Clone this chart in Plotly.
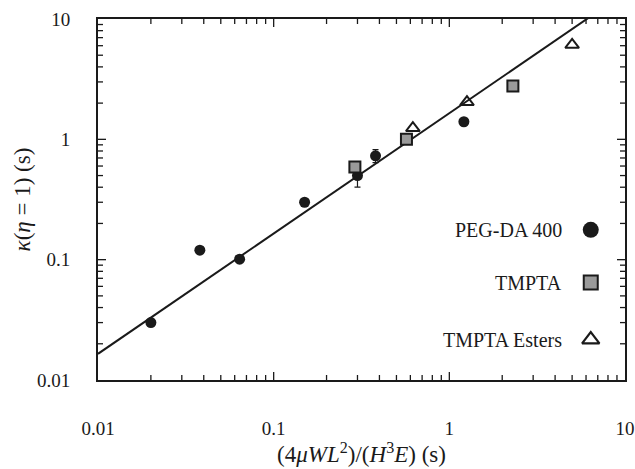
import plotly.graph_objects as go

# Measured relaxation times versus the scaling group (4 mu W L^2)/(H^3 E)
peg_x = [0.020, 0.038, 0.064, 0.15, 0.30, 0.38, 1.21]
peg_y = [0.030, 0.120, 0.101, 0.30, 0.50, 0.73, 1.40]
peg_err = [0, 0, 0, 0, 0.10, 0.09, 0]

tmpta_x = [0.29, 0.57, 2.30]
tmpta_y = [0.59, 1.00, 2.78]

ester_x = [0.62, 1.26, 5.0]
ester_y = [1.24, 2.04, 6.1]

# Power-law fit kappa = A * x^n
fit_A = 1.65
fit_n = 1.0
fit_x = [0.01, 10.0]
fit_y = [fit_A * v ** fit_n for v in fit_x]

tick_vals = [0.01, 0.1, 1, 10]
tick_text = ["0.01", "0.1", "1", "10"]

legend_names = ["PEG-DA 400", "TMPTA", "TMPTA Esters"]

FONT = "Liberation Serif"
INK = "#1a1a1a"

W, H = 635, 469
M = dict(l=98, r=10, t=19, b=89)
LOG_MIN, LOG_MAX = -2, 1
LO, HI = 10.0 ** LOG_MIN, 10.0 ** LOG_MAX

# inward tick marks on all four frame edges, drawn as short line segments
px_per_dec_x = (W - M["l"] - M["r"]) / (LOG_MAX - LOG_MIN)
px_per_dec_y = (H - M["t"] - M["b"]) / (LOG_MAX - LOG_MIN)
tick_pos = [m * 10.0 ** d for d in range(LOG_MIN, LOG_MAX) for m in range(1, 10)]


def tick_len(m, px):
    return (8 if m == 1 else 5) / px


tx, ty = [], []
for i, v in enumerate(tick_pos):
    if i == 0:
        continue
    m = i % 9 + 1
    dy = tick_len(m, px_per_dec_y)
    tx += [v, v, None, v, v, None]
    ty += [LO, LO * 10 ** dy, None, HI, HI / 10 ** dy, None]
    dx = tick_len(m, px_per_dec_x)
    ty += [v, v, None, v, v, None]
    tx += [LO, LO * 10 ** dx, None, HI, HI / 10 ** dx, None]

fig = go.Figure()

fig.add_trace(go.Scatter(
    x=tx, y=ty, mode="lines", line=dict(color=INK, width=1.3),
    showlegend=False, hoverinfo="skip"))

fig.add_trace(go.Scatter(
    x=fit_x, y=fit_y, mode="lines",
    line=dict(color=INK, width=2), showlegend=False, hoverinfo="skip"))

fig.add_trace(go.Scatter(
    x=peg_x, y=peg_y, mode="markers",
    marker=dict(symbol="circle", size=11, color=INK),
    error_y=dict(type="data", array=peg_err, visible=True,
                 color=INK, thickness=1.2, width=3),
    showlegend=False))

fig.add_trace(go.Scatter(
    x=tmpta_x, y=tmpta_y, mode="markers",
    marker=dict(symbol="square", size=11, color="#9a9a9a",
                line=dict(color=INK, width=2)),
    showlegend=False))

fig.add_trace(go.Scatter(
    x=ester_x, y=ester_y, mode="markers",
    marker=dict(symbol="triangle-up-open", size=12, color=INK,
                line=dict(color=INK, width=2)),
    showlegend=False))

# Legend keys: text on the left, marker on the right
key_y = [0.416, 0.270, 0.112]
key_style = [
    dict(symbol="circle", size=16, color=INK),
    dict(symbol="square", size=14, color="#9a9a9a", line=dict(color=INK, width=2)),
    dict(symbol="triangle-up-open", size=15, color=INK, line=dict(color=INK, width=2.2)),
]
for name, ky, st in zip(legend_names, key_y, key_style):
    fig.add_trace(go.Scatter(
        x=[0.935], y=[ky], mode="markers", marker=st,
        xaxis="x2", yaxis="y2", showlegend=False, hoverinfo="skip"))
    fig.add_annotation(
        x=0.885, y=ky, xref="x2 domain", yref="y2 domain", text=name, showarrow=False,
        xanchor="right", yanchor="middle",
        font=dict(family=FONT, size=20, color=INK))

labelled = dict(
    type="log", range=[LOG_MIN, LOG_MAX], showgrid=False, zeroline=False,
    automargin=False, tickmode="array", tickvals=tick_vals, ticktext=tick_text,
    ticks="",
    showline=True, linecolor=INK, linewidth=2, mirror=True,
    tickfont=dict(family=FONT, size=19, color=INK),
)
hidden = dict(range=[0, 1], showticklabels=False, ticks="", showline=False,
              showgrid=False, zeroline=False, automargin=False, fixedrange=True)

fig.update_layout(
    width=W, height=H,
    margin=M,
    paper_bgcolor="white", plot_bgcolor="white",
    xaxis=dict(**labelled, ticklabelstandoff=30,
               title=dict(text="(4<i>μWL</i><sup>2</sup>)/(<i>H</i><sup>3</sup><i>E</i>) (s)",
                          font=dict(family=FONT, size=23, color=INK), standoff=6)),
    yaxis=dict(**labelled, ticklabelstandoff=22,
               title=dict(text="<i>κ</i>(<i>η</i> = 1) (s)",
                          font=dict(family=FONT, size=23, color=INK), standoff=0)),
    xaxis2=dict(**hidden, overlaying="x", anchor="y2"),
    yaxis2=dict(**hidden, overlaying="y", anchor="x2"),
    showlegend=False,
)

fig.write_html("out.html")
